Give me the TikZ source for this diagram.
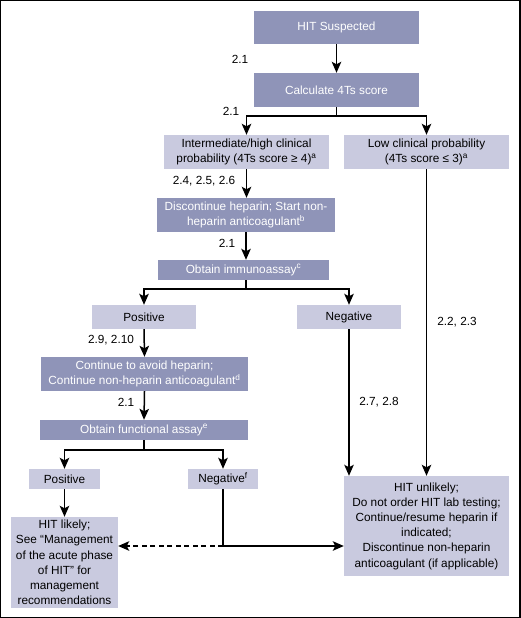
\documentclass[tikz,border=0pt]{standalone}
\usepackage{fontspec}
\setmainfont{Liberation Sans}
\usetikzlibrary{arrows.meta,calc}
\definecolor{dkfill}{HTML}{8F94B8}
\definecolor{ltfill}{HTML}{C9CADF}
\begin{document}
\begin{tikzpicture}[x=1pt,y=-1pt,
  font=\fontsize{11.8}{15.2}\selectfont,
  box/.style={rectangle,inner sep=0pt,align=center,draw=none},
  dk/.style={box,fill=dkfill,text=white},
  lt/.style={box,fill=ltfill,text=black},
  conn/.style={line width=1.5pt,draw=black},
  arr/.style={conn,-{Stealth[length=11pt,width=9.5pt,inset=2.5pt]}},
  lab/.style={inner sep=0pt,font=\fontsize{11.8}{13}\selectfont}]
\useasboundingbox (0,0) rectangle (520,618);
\draw[line width=2.5pt] (0,0) rectangle (520,618);

\node[dk,minimum width=165pt,minimum height=33pt] (hs) at (336.5,27.5) {HIT Suspected};
\node[dk,minimum width=165pt,minimum height=34pt] (calc) at (336.5,90) {Calculate 4Ts score};
\node[lt,minimum width=165pt,minimum height=34pt] (inter) at (246.5,152) {Intermediate/high clinical\\probability (4Ts score ≥ 4)\textsuperscript{a}};
\node[lt,minimum width=165pt,minimum height=34pt] (low) at (426.5,152) {Low clinical probability\\(4Ts score ≤ 3)\textsuperscript{a}};
\node[dk,minimum width=178pt,minimum height=34pt] (disc) at (246,215) {Discontinue heparin; Start non-\\heparin anticoagulant\textsuperscript{b}};
\node[dk,minimum width=171pt,minimum height=20pt] (imm) at (243.5,270) {Obtain immunoassay\textsuperscript{c}};
\node[lt,minimum width=104pt,minimum height=24pt] (pos1) at (144,317) {Positive};
\node[lt,minimum width=104pt,minimum height=24pt] (neg1) at (349,317) {Negative};
\node[dk,minimum width=207pt,minimum height=34pt] (cont) at (144.5,374) {Continue to avoid heparin;\\Continue non-heparin anticoagulant\textsuperscript{d}};
\node[dk,minimum width=208pt,minimum height=20pt] (func) at (144,430) {Obtain functional assay\textsuperscript{e}};
\node[lt,minimum width=71pt,minimum height=20pt] (pos2) at (64.5,479) {Positive};
\node[lt,minimum width=70pt,minimum height=20pt] (neg2) at (223,479) {Negative\textsuperscript{f}};
\node[lt,minimum width=107pt,minimum height=91pt] (likely) at (64.5,562.5) {HIT likely;\\See “Management\\of the acute phase\\of HIT" for\\management\\recommendations};
\node[lt,minimum width=165pt,minimum height=100pt] (unlikely) at (426.5,526) {HIT unlikely;\\Do not order HIT lab testing;\\Continue/resume heparin if\\indicated;\\Discontinue non-heparin\\anticoagulant (if applicable)};

% connectors
\draw[arr] (hs.south) -- (calc.north);
\coordinate (b1) at ($(calc.south)+(0,9)$);
\draw[conn] (calc.south) -- (b1);
\draw[arr] (b1) -| (inter.north);
\draw[arr] (b1) -| (low.north);
\draw[arr] (inter.south) -- (inter.south |- disc.north);
\draw[arr] (disc.south) -- (disc.south |- imm.north);
\coordinate (b2) at ($(imm.south -| disc.south)+(0,9)$);
\draw[conn] (imm.south -| disc.south) -- (b2);
\draw[arr] (b2) -| (pos1.north);
\draw[arr] (b2) -| (neg1.north);
\draw[arr] (pos1.south) -- (cont.north);
\draw[arr] (cont.south) -- (func.north);
\coordinate (b3) at ($(func.south)+(0,10)$);
\draw[conn] (func.south) -- (b3);
\draw[arr] (b3) -| (pos2.north);
\draw[arr] (b3) -| (neg2.north);
\draw[arr] (pos2.south) -- (likely.north);
\coordinate (j) at (223,546);
\draw[conn] (neg2.south) -- (j);
\draw[arr] (j) -- (j -| unlikely.west);
\draw[arr,dash pattern=on 5pt off 3.5pt] (j) -- (j -| likely.east);
\draw[arr] (neg1.south) -- (neg1.south |- unlikely.north);
\draw[arr] (low.south) -- (low.south |- unlikely.north);

% labels
\node[lab] (l1) at (240,59) {2.1};
\node[lab] (l2) at (231,111) {2.1};
\node[lab] (l3) at (204,181) {2.4, 2.5, 2.6};
\node[lab] (l4) at (227,243) {2.1};
\node[lab] (l5) at (111,340) {2.9, 2.10};
\node[lab] (l6) at (126,402) {2.1};
\node[lab] (l7) at (379,402) {2.7, 2.8};
\node[lab] (l8) at (457,322) {2.2, 2.3};
\end{tikzpicture}
\end{document}
